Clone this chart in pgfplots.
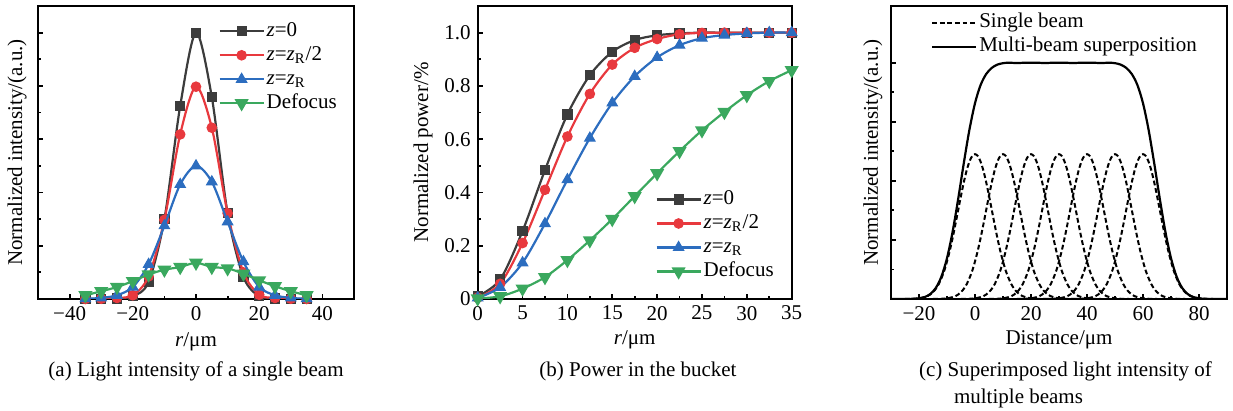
\documentclass[border=0pt]{standalone}
\usepackage{fontspec}
\setmainfont{Liberation Serif}
\usepackage{pgfplots}
\pgfplotsset{compat=1.18}
\usepackage{pgfplotstable}

\definecolor{cK}{HTML}{3C3C3C}
\definecolor{cR}{HTML}{E8393E}
\definecolor{cB}{HTML}{2C6DBF}
\definecolor{cG}{HTML}{3AA85E}

\newcommand{\fs}{\fontsize{10.5}{12.6}\selectfont}

% (a) radial intensity profiles
\pgfplotstableread{
r     k      rd     b      g
-35   0.000  0.000  0.001  0.014
-30   0.000  0.001  0.004  0.029
-25   0.002  0.004  0.014  0.045
-20   0.010  0.014  0.045  0.067
-15   0.064  0.085  0.130  0.092
-10   0.300  0.297  0.275  0.110
-5    0.725  0.618  0.430  0.120
0     1.000  0.797  0.500  0.136
5     0.758  0.643  0.440  0.120
10    0.322  0.322  0.290  0.115
15    0.083  0.100  0.140  0.095
20    0.010  0.016  0.045  0.070
25    0.002  0.004  0.014  0.048
30    0.000  0.001  0.004  0.029
35    0.000  0.000  0.001  0.014
}\profiles

% (b) power in the bucket
\pgfplotstableread{
r     k      rd     b      g
0     0.010  0.005  0.004  0.002
2.5   0.073  0.057  0.044  0.010
5     0.255  0.210  0.136  0.039
7.5   0.484  0.410  0.283  0.082
10    0.693  0.610  0.448  0.146
12.5  0.840  0.770  0.604  0.220
15    0.928  0.880  0.736  0.300
17.5  0.972  0.943  0.836  0.386
20    0.990  0.976  0.907  0.472
22.5  0.997  0.994  0.953  0.555
25    1.000  0.999  0.979  0.633
27.5  1.000  1.000  0.991  0.702
30    1.000  1.000  0.997  0.765
32.5  1.000  1.000  1.000  0.818
35    1.000  1.000  1.000  0.859
}\pib

% (c) single beam profile, offset from its centre
\pgfplotstableread{
d    v
-25  0.000
-22  0.001
-20  0.003
-19  0.005
-18  0.008
-17  0.012
-16  0.019
-15  0.029
-14  0.043
-13  0.062
-12  0.088
-11  0.119
-10  0.159
-9   0.205
-8   0.258
-7   0.316
-6   0.377
-5   0.437
-4   0.494
-3   0.543
-2   0.581
-1   0.605
0    0.613
1    0.605
2    0.581
3    0.543
4    0.494
5    0.437
6    0.377
7    0.316
8    0.258
9    0.205
10   0.159
11   0.119
12   0.088
13   0.062
14   0.043
15   0.029
16   0.019
17   0.012
18   0.008
19   0.005
20   0.003
22   0.001
25   0.000
}\beam

% (c) superposition of the seven beams
\pgfplotstableread{
x    s
-30  0.0000
-28  0.0000
-26  0.0001
-24  0.0003
-22  0.0009
-20  0.0030
-18  0.0082
-16  0.0207
-14  0.0467
-12  0.0946
-10  0.1727
-8   0.2843
-6   0.4239
-4   0.5750
-2   0.7159
0    0.8285
2    0.9056
4    0.9521
6    0.9781
8    0.9920
10   0.9980
12   1.0000
14   0.9990
16   0.9990
18   1.0000
20   1.0000
22   1.0000
24   0.9990
26   0.9990
28   1.0000
30   1.0000
32   1.0000
34   0.9990
36   0.9990
38   1.0000
40   1.0000
42   1.0000
44   0.9990
46   0.9990
48   1.0000
50   0.9980
52   0.9920
54   0.9781
56   0.9521
58   0.9056
60   0.8285
62   0.7159
64   0.5750
66   0.4239
68   0.2843
70   0.1727
72   0.0946
74   0.0467
76   0.0207
78   0.0082
80   0.0030
82   0.0009
84   0.0003
86   0.0001
88   0.0000
90   0.0000
}\multi

\pgfplotsset{
  panel/.style={
    scale only axis,
    height=146.5pt,
    axis line style={line width=1pt},
    tick pos=left, tick align=inside,
    major tick length=2.4pt, minor tick length=1.6pt,
    tick style={line width=0.9pt, black},
    minor tick num=1,
    font=\fs,
    /pgf/number format/assume math mode=true,
    legend cell align=left,
    legend style={draw=none, fill=none, font=\fs, anchor=north west,
      inner sep=0pt, row sep=0pt,
      nodes={text height=7.6pt, text depth=2.4pt, inner sep=1pt}},
    legend image code/.code={\draw[mark repeat=2, mark phase=2, ##1]
      plot coordinates {(0pt,0pt) (11pt,0pt) (22pt,0pt)};},
  },
  ser/.style={line width=1.1pt, color=#1, smooth,
    mark options={fill=#1, draw=#1, solid, line width=0.5pt}},
}

\begin{document}
\begin{tikzpicture}
\useasboundingbox (0,0) rectangle (616.5pt,-205.5pt);

% ---------- (a) ----------
\begin{axis}[panel,
  at={(19pt,-149.5pt)}, anchor=south west, width=158pt,
  xmin=-50, xmax=50, ymin=0, ymax=1.1,
  xtick={-40,-20,0,20,40}, xticklabels={−40,−20,0,20,40},
  ytick={0,0.2,0.4,0.6,0.8,1.0}, yticklabels={,,},
  clip mode=individual,
  xlabel={\textit{r}/μm},
  xlabel style={at={(axis description cs:0.5,-0.147)}, anchor=center},
  ylabel={Normalized intensity/(a.u.)},
  ylabel style={at={(axis description cs:-0.066,0.5)}, anchor=center},
  legend style={at={(axis description cs:0.57,0.956)}},
]
\addplot[ser=cK, mark=square*, mark size=2.3pt] table[x=r, y=k] {\profiles};
\addlegendentry{\textit{z}=0}
\addplot[ser=cR, mark=*, mark size=2.4pt] table[x=r, y=rd] {\profiles};
\addlegendentry{\textit{z}=\textit{z}\textsubscript{R}/2}
\addplot[ser=cB, mark=triangle*, mark size=3pt] table[x=r, y=b] {\profiles};
\addlegendentry{\textit{z}=\textit{z}\textsubscript{R}}
\addplot[ser=cG, mark=triangle*, mark size=3pt,
  mark options={rotate=180}] table[x=r, y=g] {\profiles};
\addlegendentry{Defocus}
\end{axis}

% ---------- (b) ----------
\begin{axis}[panel,
  at={(238.85pt,-149.5pt)}, anchor=south west, width=157pt,
  xmin=0, xmax=35, ymin=0, ymax=1.1,
  xtick={0,5,...,35},
  ytick={0,0.2,0.4,0.6,0.8,1.0}, yticklabels={0,0.2,0.4,0.6,0.8,1.0},
  xlabel={\textit{r}/μm},
  xlabel style={at={(axis description cs:0.5,-0.14)}, anchor=center},
  ylabel={Normalized power/\%},
  ylabel style={at={(axis description cs:-0.174,0.5)}, anchor=center},
  legend style={at={(axis description cs:0.565,0.382)}},
]
\addplot[ser=cK, mark=square*, mark size=2.3pt] table[x=r, y=k] {\pib};
\addlegendentry{\textit{z}=0}
\addplot[ser=cR, mark=*, mark size=2.4pt] table[x=r, y=rd] {\pib};
\addlegendentry{\textit{z}=\textit{z}\textsubscript{R}/2}
\addplot[ser=cB, mark=triangle*, mark size=3pt] table[x=r, y=b] {\pib};
\addlegendentry{\textit{z}=\textit{z}\textsubscript{R}}
\addplot[ser=cG, mark=triangle*, mark size=3pt,
  mark options={rotate=180}] table[x=r, y=g] {\pib};
\addlegendentry{Defocus}
\end{axis}

% ---------- (c) ----------
\begin{axis}[panel,
  at={(445.5pt,-149.5pt)}, anchor=south west, width=168pt,
  xmin=-30, xmax=90, ymin=0, ymax=1.24,
  xtick={-20,0,...,80}, xticklabels={−20,0,20,40,60,80},
  ytick={0,0.25,0.5,0.75,1.0}, yticklabels={,,},
  xlabel={Distance/μm},
  xlabel style={at={(axis description cs:0.5,-0.14)}, anchor=center},
  ylabel={Normalized intensity/(a.u.)},
  ylabel style={at={(axis description cs:-0.054,0.5)}, anchor=center},
  legend style={at={(axis description cs:0.118,0.985)}},
]
\addlegendimage{black, line width=1pt, dash pattern=on 2.4pt off 1.4pt}
\addlegendentry{Single beam}
\addlegendimage{black, line width=1.1pt}
\addlegendentry{Multi-beam superposition}
\pgfplotsinvokeforeach{0,10,20,30,40,50,60}{
  \addplot[forget plot, black, line width=1pt, smooth,
    dash pattern=on 2.4pt off 1.4pt]
    table[x expr=\thisrow{d}+#1, y=v] {\beam};
}
\addplot[forget plot, black, line width=1.1pt, smooth] table[x=x, y=s] {\multi};
\end{axis}

% captions
\node[font=\fs, anchor=base] at (98pt,-188.5pt) {(a) Light intensity of a single beam};
\node[font=\fs, anchor=base] at (319pt,-188.5pt) {(b) Power in the bucket};
\node[font=\fs, anchor=base west] at (456pt,-188.5pt) {(c) Superimposed light intensity of};
\node[font=\fs, anchor=base west] at (473.5pt,-202pt) {multiple beams};
\end{tikzpicture}
\end{document}
